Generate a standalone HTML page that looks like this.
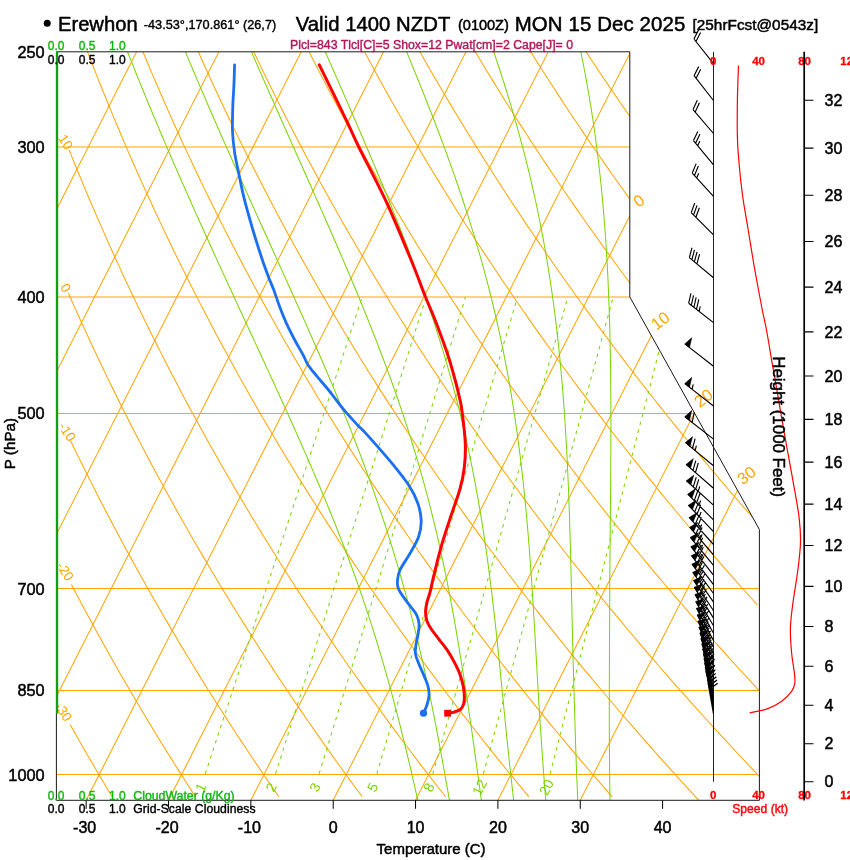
<!DOCTYPE html>
<html><head><meta charset="utf-8"><title>Skew-T Erewhon</title>
<style>html,body{margin:0;padding:0;background:#fff}body{width:850px;height:860px;overflow:hidden;font-family:"Liberation Sans",sans-serif}svg{display:block}</style>
</head><body>
<svg width="850" height="860" viewBox="0 0 850 860" font-family="'Liberation Sans', sans-serif" style="will-change:transform">
<rect width="850" height="860" fill="#fff"/>
<defs><clipPath id="fr"><path d="M56.4 51.8 L629.8 51.8 L629.8 296.94 L759.4 529.51 L759.4 800.3 L56.4 800.3Z"/></clipPath></defs>
<g clip-path="url(#fr)" fill="none" stroke-width="1.02">
<path d="M56.4 146.89H759.4M56.4 296.94H759.4M56.4 413.5H759.4M56.4 588.5H759.4M56.4 690.5H758.6M56.4 774.5H757.8" stroke="#FFA500"/>
<path d="M-654.95 800.3L-275.16 51.8M-572.6 800.3L-192.82 51.8M-490.26 800.3L-110.47 51.8M-407.91 800.3L-28.12 51.8M-325.56 800.3L54.22 51.8M-243.22 800.3L136.57 51.8M-160.87 800.3L218.92 51.8M-78.52 800.3L301.26 51.8M3.83 800.3L383.61 51.8M86.17 800.3L465.96 51.8M168.52 800.3L548.31 51.8M250.87 800.3L630.65 51.8M333.21 800.3L713 51.8M415.56 800.3L795.35 51.8M497.91 800.3L877.69 51.8M580.26 800.3L960.04 51.8" stroke="#FFA500"/>
<path d="M70.2 724.67 L70.89 725.9 L71.72 727.38 L72.56 728.86 L73.39 730.34 L74.22 731.81 L75.06 733.29 L75.89 734.77 L76.73 736.25 L77.57 737.72 L78.41 739.2 L79.25 740.68 L80.1 742.15 L80.94 743.63 L81.78 745.11 L82.63 746.59 L83.48 748.06 L84.33 749.54 L85.18 751.02 L86.03 752.49 L86.88 753.97 L87.74 755.45 L88.6 756.93 L89.45 758.4 L90.31 759.88 L91.17 761.36 L92.03 762.84 L92.89 764.31 L93.76 765.79 L94.62 767.27 L95.49 768.74 L96.36 770.22 L97.23 771.7 L98.1 773.18 L98.97 774.65 L99.84 776.13 L100.71 777.61 L101.59 779.08 L102.47 780.56 L103.34 782.04 L104.22 783.52 L105.1 784.99 L105.99 786.47 L106.87 787.95 L107.75 789.43 L108.64 790.9 L109.53 792.38 L110.42 793.86 L111.31 795.33 L112.2 796.81M71.4 584.5 L71.77 585.21 L73.79 589.06 L75.81 592.91 L77.84 596.75 L79.88 600.6 L81.93 604.45 L83.99 608.29 L86.05 612.14 L88.13 615.99 L90.21 619.84 L92.3 623.68 L94.4 627.53 L96.51 631.38 L98.63 635.23 L100.76 639.07 L102.89 642.92 L105.03 646.77 L107.18 650.61 L109.35 654.46 L111.51 658.31 L113.69 662.16 L115.88 666 L118.07 669.85 L120.28 673.7 L122.49 677.55 L124.71 681.39 L126.94 685.24 L129.18 689.09 L131.43 692.93 L133.69 696.78 L135.95 700.63 L138.23 704.48 L140.51 708.32 L142.8 712.17 L145.1 716.02 L147.42 719.87 L149.74 723.71 L152.06 727.56 L154.4 731.41 L156.75 735.25 L159.1 739.1 L161.47 742.95 L163.84 746.8 L166.23 750.64 L168.62 754.49 L171.02 758.34 L173.43 762.19 L175.85 766.03 L178.28 769.88 L180.72 773.73 L183.16 777.57 L185.62 781.42 L188.09 785.27 L190.56 789.12 L193.05 792.96 L195.54 796.81M69.8 439.19 L72.24 444.25 L75.24 450.44 L78.27 456.62 L81.31 462.81 L84.38 468.99 L87.47 475.18 L90.57 481.36 L93.7 487.55 L96.85 493.73 L100.03 499.92 L103.22 506.1 L106.43 512.29 L109.67 518.47 L112.93 524.66 L116.21 530.85 L119.51 537.03 L122.83 543.22 L126.18 549.4 L129.55 555.59 L132.94 561.77 L136.35 567.96 L139.78 574.14 L143.24 580.33 L146.72 586.51 L150.22 592.7 L153.74 598.88 L157.29 605.07 L160.86 611.25 L164.45 617.44 L168.07 623.62 L171.7 629.81 L175.36 635.99 L179.05 642.18 L182.75 648.37 L186.49 654.55 L190.24 660.74 L194.02 666.92 L197.82 673.11 L201.64 679.29 L205.49 685.48 L209.36 691.66 L213.26 697.85 L217.17 704.03 L221.12 710.22 L225.09 716.4 L229.08 722.59 L233.09 728.77 L237.13 734.96 L241.2 741.14 L245.29 747.33 L249.4 753.51 L253.54 759.7 L257.7 765.88 L261.89 772.07 L266.1 778.26 L270.34 784.44 L274.6 790.63 L278.89 796.81M68.4 293.13 L70.65 298.25 L74.47 306.84 L78.33 315.44 L82.23 324.03 L86.17 332.63 L90.15 341.23 L94.16 349.82 L98.22 358.42 L102.32 367.01 L106.45 375.61 L110.63 384.21 L114.84 392.8 L119.1 401.4 L123.4 409.99 L127.74 418.59 L132.12 427.19 L136.54 435.78 L141 444.38 L145.51 452.97 L150.05 461.57 L154.64 470.17 L159.27 478.76 L163.94 487.36 L168.66 495.95 L173.42 504.55 L178.22 513.14 L183.06 521.74 L187.95 530.34 L192.88 538.93 L197.86 547.53 L202.88 556.12 L207.95 564.72 L213.05 573.32 L218.21 581.91 L223.41 590.51 L228.65 599.1 L233.94 607.7 L239.28 616.3 L244.66 624.89 L250.08 633.49 L255.56 642.08 L261.07 650.68 L266.64 659.28 L272.25 667.87 L277.91 676.47 L283.62 685.06 L289.38 693.66 L295.18 702.26 L301.03 710.85 L306.93 719.45 L312.88 728.04 L318.87 736.64 L324.92 745.24 L331.01 753.83 L337.16 762.43 L343.35 771.02 L349.59 779.62 L355.89 788.22 L362.23 796.81M69.1 149.97 L71.08 154.93 L75.57 166 L80.12 177.06 L84.73 188.13 L89.4 199.2 L94.14 210.26 L98.94 221.33 L103.8 232.4 L108.72 243.47 L113.71 254.53 L118.77 265.6 L123.89 276.67 L129.07 287.73 L134.32 298.8 L139.64 309.87 L145.02 320.93 L150.47 332 L155.99 343.07 L161.58 354.13 L167.23 365.2 L172.95 376.27 L178.74 387.34 L184.6 398.4 L190.53 409.47 L196.53 420.54 L202.6 431.6 L208.75 442.67 L214.96 453.74 L221.25 464.8 L227.6 475.87 L234.03 486.94 L240.54 498 L247.12 509.07 L253.77 520.14 L260.5 531.21 L267.3 542.27 L274.18 553.34 L281.13 564.41 L288.16 575.47 L295.27 586.54 L302.45 597.61 L309.72 608.67 L317.06 619.74 L324.48 630.81 L331.98 641.87 L339.56 652.94 L347.22 664.01 L354.96 675.08 L362.78 686.14 L370.68 697.21 L378.67 708.28 L386.74 719.34 L394.89 730.41 L403.12 741.48 L411.44 752.54 L419.85 763.61 L428.34 774.68 L436.91 785.74 L445.58 796.81M87.55 51.8 L92.35 64.22 L97.21 76.63 L102.16 89.05 L107.18 101.47 L112.28 113.88 L117.46 126.3 L122.72 138.72 L128.05 151.13 L133.47 163.55 L138.96 175.97 L144.54 188.39 L150.2 200.8 L155.93 213.22 L161.75 225.64 L167.66 238.05 L173.64 250.47 L179.71 262.89 L185.87 275.3 L192.11 287.72 L198.44 300.14 L204.85 312.55 L211.35 324.97 L217.93 337.39 L224.61 349.8 L231.37 362.22 L238.22 374.64 L245.17 387.06 L252.2 399.47 L259.32 411.89 L266.54 424.31 L273.85 436.72 L281.25 449.14 L288.74 461.56 L296.33 473.97 L304.01 486.39 L311.79 498.81 L319.67 511.22 L327.64 523.64 L335.71 536.06 L343.88 548.47 L352.15 560.89 L360.51 573.31 L368.98 585.72 L377.55 598.14 L386.21 610.56 L394.99 622.98 L403.86 635.39 L412.84 647.81 L421.92 660.23 L431.11 672.64 L440.4 685.06 L449.8 697.48 L459.31 709.89 L468.92 722.31 L478.65 734.73 L488.48 747.14 L498.42 759.56 L508.48 771.98 L518.64 784.39 L528.92 796.81M142.94 51.8 L148.12 64.22 L153.37 76.63 L158.7 89.05 L164.11 101.47 L169.6 113.88 L175.16 126.3 L180.82 138.72 L186.55 151.13 L192.36 163.55 L198.26 175.97 L204.24 188.39 L210.3 200.8 L216.45 213.22 L222.69 225.64 L229.01 238.05 L235.41 250.47 L241.91 262.89 L248.49 275.3 L255.15 287.72 L261.91 300.14 L268.76 312.55 L275.69 324.97 L282.72 337.39 L289.84 349.8 L297.04 362.22 L304.35 374.64 L311.74 387.06 L319.23 399.47 L326.81 411.89 L334.49 424.31 L342.26 436.72 L350.13 449.14 L358.09 461.56 L366.15 473.97 L374.31 486.39 L382.57 498.81 L390.93 511.22 L399.39 523.64 L407.95 536.06 L416.61 548.47 L425.38 560.89 L434.24 573.31 L443.21 585.72 L452.29 598.14 L461.47 610.56 L470.75 622.98 L480.14 635.39 L489.64 647.81 L499.25 660.23 L508.97 672.64 L518.79 685.06 L528.73 697.48 L538.77 709.89 L548.93 722.31 L559.2 734.73 L569.58 747.14 L580.08 759.56 L590.69 771.98 L601.42 784.39 L612.27 796.81M198.34 51.8 L203.92 64.28 L209.57 76.75 L215.31 89.23 L221.14 101.7 L227.05 114.18 L233.04 126.65 L239.11 139.13 L245.27 151.6 L251.52 164.08 L257.85 176.55 L264.27 189.03 L270.78 201.5 L277.38 213.98 L284.06 226.45 L290.83 238.93 L297.7 251.4 L304.65 263.88 L311.7 276.35 L318.83 288.83 L326.06 301.3 L333.39 313.78 L340.8 326.25 L348.31 338.73 L355.92 351.2 L363.62 363.68 L371.42 376.15 L379.31 388.63 L387.3 401.1 L395.39 413.58 L403.58 426.05 L411.87 438.53 L420.26 451 L428.75 463.48 L437.34 475.95 L446.04 488.43 L454.84 500.9 L463.74 513.38 L472.74 525.85 L481.86 538.33 L491.07 550.8 L500.4 563.28 L509.83 575.75 L519.37 588.23 L529.02 600.7 L538.78 613.18 L548.65 625.65 L558.63 638.13 L568.72 650.6 L578.92 663.08 L589.24 675.55 L599.67 688.03 L610.22 700.5 L620.88 712.98 L631.66 725.45 L642.56 737.93 L653.58 750.4 L664.71 762.88 L675.97 775.35 L687.34 787.83 L698.84 800.3M253.73 51.8 L259.5 63.88 L265.34 75.95 L271.27 88.03 L277.27 100.11 L283.36 112.18 L289.52 124.26 L295.77 136.34 L302.1 148.42 L308.51 160.49 L315.01 172.57 L321.59 184.65 L328.25 196.72 L335 208.8 L341.84 220.88 L348.76 232.95 L355.77 245.03 L362.86 257.11 L370.04 269.18 L377.32 281.26 L384.68 293.34 L392.13 305.42 L399.67 317.49 L407.3 329.57 L415.02 341.65 L422.83 353.72 L430.74 365.8 L438.74 377.88 L446.84 389.95 L455.03 402.03 L463.31 414.11 L471.69 426.18 L480.16 438.26 L488.74 450.34 L497.41 462.42 L506.18 474.49 L515.05 486.57 L524.01 498.65 L533.08 510.72 L542.25 522.8 L551.52 534.88 L560.89 546.95 L570.37 559.03 L579.95 571.11 L589.63 583.18 L599.42 595.26 L609.32 607.34 L619.32 619.41 L629.43 631.49 L639.64 643.57 L649.97 655.65 L660.4 667.72 L670.95 679.8 L681.6 691.88 L692.37 703.95 L703.25 716.03 L714.24 728.11 L725.34 740.18 L736.56 752.26 L747.9 764.34 L759.35 776.41M309.13 51.8 L314.53 62.46 L320.01 73.12 L325.54 83.78 L331.14 94.43 L336.81 105.09 L342.54 115.75 L348.33 126.41 L354.2 137.07 L360.12 147.73 L366.12 158.39 L372.18 169.04 L378.3 179.7 L384.5 190.36 L390.76 201.02 L397.09 211.68 L403.49 222.34 L409.96 233 L416.5 243.65 L423.11 254.31 L429.79 264.97 L436.54 275.63 L443.36 286.29 L450.26 296.95 L457.22 307.61 L464.26 318.26 L471.37 328.92 L478.56 339.58 L485.81 350.24 L493.15 360.9 L500.55 371.56 L508.04 382.21 L515.59 392.87 L523.23 403.53 L530.94 414.19 L538.72 424.85 L546.59 435.51 L554.53 446.17 L562.55 456.82 L570.65 467.48 L578.83 478.14 L587.09 488.8 L595.43 499.46 L603.84 510.12 L612.34 520.78 L620.93 531.43 L629.59 542.09 L638.34 552.75 L647.16 563.41 L656.08 574.07 L665.07 584.73 L674.15 595.39 L683.32 606.04 L692.57 616.7 L701.91 627.36 L711.33 638.02 L720.84 648.68 L730.44 659.34 L740.12 670 L749.9 680.65 L759.76 691.31M364.52 51.8 L369.47 61.02 L374.48 70.24 L379.53 79.46 L384.64 88.68 L389.79 97.9 L394.99 107.12 L400.24 116.34 L405.55 125.55 L410.9 134.77 L416.3 143.99 L421.76 153.21 L427.27 162.43 L432.82 171.65 L438.43 180.87 L444.1 190.09 L449.81 199.31 L455.58 208.53 L461.4 217.75 L467.27 226.97 L473.2 236.19 L479.18 245.41 L485.22 254.63 L491.31 263.84 L497.45 273.06 L503.65 282.28 L509.9 291.5 L516.21 300.72 L522.58 309.94 L529 319.16 L535.47 328.38 L542.01 337.6 L548.6 346.82 L555.24 356.04 L561.95 365.26 L568.71 374.48 L575.53 383.7 L582.41 392.92 L589.35 402.14 L596.34 411.35 L603.4 420.57 L610.51 429.79 L617.69 439.01 L624.92 448.23 L632.22 457.45 L639.57 466.67 L646.99 475.89 L654.47 485.11 L662.01 494.33 L669.61 503.55 L677.27 512.77 L685 521.99 L692.79 531.21 L700.64 540.43 L708.56 549.64 L716.54 558.86 L724.58 568.08 L732.69 577.3 L740.86 586.52 L749.1 595.74 L757.4 604.96M419.91 51.8 L424.38 59.67 L428.88 67.53 L433.42 75.4 L437.99 83.27 L442.61 91.14 L447.26 99 L451.94 106.87 L456.67 114.74 L461.43 122.61 L466.23 130.47 L471.07 138.34 L475.95 146.21 L480.86 154.07 L485.81 161.94 L490.81 169.81 L495.84 177.68 L500.91 185.54 L506.02 193.41 L511.16 201.28 L516.35 209.15 L521.58 217.01 L526.85 224.88 L532.15 232.75 L537.5 240.61 L542.89 248.48 L548.32 256.35 L553.79 264.22 L559.3 272.08 L564.85 279.95 L570.44 287.82 L576.08 295.69 L581.75 303.55 L587.47 311.42 L593.23 319.29 L599.03 327.15 L604.87 335.02 L610.76 342.89 L616.69 350.76 L622.66 358.62 L628.68 366.49 L634.74 374.36 L640.84 382.23 L646.98 390.09 L653.17 397.96 L659.4 405.83 L665.68 413.7 L672 421.56 L678.37 429.43 L684.78 437.3 L691.24 445.16 L697.74 453.03 L704.29 460.9 L710.88 468.77 L717.52 476.63 L724.2 484.5 L730.93 492.37 L737.71 500.24 L744.53 508.1 L751.4 515.97 L758.32 523.84M475.31 51.8 L477.68 55.78 L480.06 59.75 L482.45 63.73 L484.86 67.71 L487.27 71.68 L489.69 75.66 L492.12 79.63 L494.56 83.61 L497.01 87.59 L499.47 91.56 L501.94 95.54 L504.42 99.52 L506.91 103.49 L509.41 107.47 L511.92 111.45 L514.44 115.42 L516.97 119.4 L519.51 123.37 L522.06 127.35 L524.62 131.33 L527.19 135.3 L529.77 139.28 L532.35 143.26 L534.95 147.23 L537.56 151.21 L540.18 155.18 L542.81 159.16 L545.45 163.14 L548.1 167.11 L550.76 171.09 L553.43 175.07 L556.11 179.04 L558.8 183.02 L561.5 187 L564.21 190.97 L566.94 194.95 L569.67 198.92 L572.41 202.9 L575.16 206.88 L577.93 210.85 L580.7 214.83 L583.48 218.81 L586.28 222.78 L589.08 226.76 L591.9 230.74 L594.72 234.71 L597.56 238.69 L600.41 242.66 L603.26 246.64 L606.13 250.62 L609.01 254.59 L611.9 258.57 L614.8 262.55 L617.71 266.52 L620.64 270.5 L623.57 274.47 L626.51 278.45 L629.47 282.43 L632.43 286.4 L635.41 290.38M530.7 51.8 L532.28 54.32 L533.86 56.84 L535.45 59.35 L537.04 61.87 L538.63 64.39 L540.23 66.91 L541.83 69.43 L543.44 71.95 L545.05 74.46 L546.66 76.98 L548.28 79.5 L549.9 82.02 L551.53 84.54 L553.16 87.05 L554.79 89.57 L556.43 92.09 L558.07 94.61 L559.72 97.13 L561.37 99.64 L563.02 102.16 L564.68 104.68 L566.34 107.2 L568.01 109.72 L569.68 112.24 L571.36 114.75 L573.04 117.27 L574.72 119.79 L576.4 122.31 L578.1 124.83 L579.79 127.34 L581.49 129.86 L583.19 132.38 L584.9 134.9 L586.61 137.42 L588.33 139.94 L590.05 142.45 L591.77 144.97 L593.5 147.49 L595.23 150.01 L596.97 152.53 L598.71 155.04 L600.45 157.56 L602.2 160.08 L603.96 162.6 L605.71 165.12 L607.48 167.63 L609.24 170.15 L611.01 172.67 L612.78 175.19 L614.56 177.71 L616.35 180.23 L618.13 182.74 L619.92 185.26 L621.72 187.78 L623.52 190.3 L625.32 192.82 L627.13 195.33 L628.94 197.85 L630.76 200.37 L632.58 202.89M586.09 51.8 L586.86 52.97 L587.63 54.14 L588.4 55.31 L589.17 56.48 L589.94 57.65 L590.71 58.82 L591.49 59.99 L592.26 61.16 L593.04 62.33 L593.81 63.49 L594.59 64.66 L595.37 65.83 L596.15 67 L596.93 68.17 L597.71 69.34 L598.49 70.51 L599.27 71.68 L600.05 72.85 L600.84 74.02 L601.62 75.19 L602.41 76.36 L603.19 77.53 L603.98 78.7 L604.77 79.87 L605.56 81.04 L606.35 82.21 L607.14 83.38 L607.93 84.54 L608.72 85.71 L609.52 86.88 L610.31 88.05 L611.11 89.22 L611.9 90.39 L612.7 91.56 L613.5 92.73 L614.3 93.9 L615.1 95.07 L615.9 96.24 L616.7 97.41 L617.5 98.58 L618.31 99.75 L619.11 100.92 L619.92 102.09 L620.72 103.26 L621.53 104.43 L622.34 105.6 L623.15 106.76 L623.96 107.93 L624.77 109.1 L625.58 110.27 L626.39 111.44 L627.2 112.61 L628.02 113.78 L628.83 114.95 L629.65 116.12 L630.47 117.29 L631.28 118.46 L632.1 119.63 L632.92 120.8 L633.74 121.97" stroke="#FFA500"/>
<path d="M417.79 800.3 L415.68 790.94 L413.55 781.59 L411.4 772.23 L409.21 762.88 L406.99 753.52 L404.73 744.16 L402.43 734.81 L400.09 725.45 L397.71 716.09 L395.27 706.74 L392.79 697.38 L390.25 688.03 L387.65 678.67 L385 669.31 L382.28 659.96 L379.5 650.6 L376.66 641.24 L373.74 631.89 L370.77 622.53 L367.72 613.18 L364.6 603.82 L361.41 594.46 L358.15 585.11 L354.82 575.75 L351.42 566.39 L347.95 557.04 L344.41 547.68 L340.77 538.33 L337.08 528.97 L333.34 519.61 L329.54 510.26 L325.68 500.9 L321.78 491.54 L317.83 482.19 L313.84 472.83 L309.8 463.48 L305.73 454.12 L301.62 444.76 L297.47 435.41 L293.3 426.05 L289.09 416.69 L284.87 407.34 L280.62 397.98 L276.35 388.63 L272.06 379.27 L267.76 369.91 L263.45 360.56 L259.13 351.2 L254.81 341.84 L250.48 332.49 L246.15 323.13 L241.82 313.78 L237.5 304.42 L233.17 295.06 L228.86 285.71 L224.56 276.35 L220.26 266.99 L215.98 257.64 L211.71 248.28 L207.46 238.93 L203.23 229.57 L199.01 220.21 L194.81 210.86 L190.64 201.5 L186.49 192.14 L182.36 182.79 L178.25 173.43 L174.17 164.08 L170.12 154.72 L166.09 145.36 L162.1 136.01 L158.13 126.65 L154.19 117.29 L150.29 107.94 L146.41 98.58 L142.57 89.23 L138.76 79.87 L134.99 70.51 L131.25 61.16 L127.54 51.8M449.49 800.3 L447.82 790.94 L446.15 781.59 L444.47 772.23 L442.78 762.88 L441.07 753.52 L439.34 744.16 L437.59 734.81 L435.81 725.45 L434 716.09 L432.15 706.74 L430.26 697.38 L428.32 688.03 L426.34 678.67 L424.3 669.31 L422.21 659.96 L420.01 650.6 L417.77 641.24 L415.49 631.89 L413.14 622.53 L410.75 613.18 L408.29 603.82 L405.78 594.46 L403.2 585.11 L400.56 575.75 L397.86 566.39 L395.09 557.04 L392.25 547.68 L389.34 538.33 L386.36 528.97 L383.31 519.61 L380.2 510.26 L377.01 500.9 L373.76 491.54 L370.44 482.19 L367.05 472.83 L363.59 463.48 L360.08 454.12 L356.5 444.76 L352.86 435.41 L349.17 426.05 L345.42 416.69 L341.62 407.34 L337.77 397.98 L333.88 388.63 L329.94 379.27 L325.96 369.91 L321.94 360.56 L317.89 351.2 L313.81 341.84 L309.7 332.49 L305.57 323.13 L301.41 313.78 L297.23 304.42 L293.04 295.06 L288.83 285.71 L284.62 276.35 L280.39 266.99 L276.16 257.64 L271.92 248.28 L267.68 238.93 L263.44 229.57 L259.21 220.21 L254.98 210.86 L250.76 201.5 L246.54 192.14 L242.34 182.79 L238.15 173.43 L233.97 164.08 L229.81 154.72 L225.66 145.36 L221.53 136.01 L217.43 126.65 L213.34 117.29 L209.27 107.94 L205.23 98.58 L201.22 89.23 L197.22 79.87 L193.26 70.51 L189.32 61.16 L185.41 51.8M481.38 800.3 L480.09 790.94 L478.8 781.59 L477.52 772.23 L476.24 762.88 L474.96 753.52 L473.67 744.16 L472.36 734.81 L471.03 725.45 L469.64 716.09 L468.24 706.74 L466.83 697.38 L465.41 688.03 L463.97 678.67 L462.5 669.31 L461.02 659.96 L459.5 650.6 L457.95 641.24 L456.37 631.89 L454.74 622.53 L453.07 613.18 L451.36 603.82 L449.6 594.46 L447.78 585.11 L445.91 575.75 L443.98 566.39 L442 557.04 L439.94 547.68 L437.83 538.33 L435.64 528.97 L433.39 519.61 L431.07 510.26 L428.67 500.9 L426.2 491.54 L423.66 482.19 L421.04 472.83 L418.35 463.48 L415.58 454.12 L412.73 444.76 L409.82 435.41 L406.82 426.05 L403.75 416.69 L400.61 407.34 L397.4 397.98 L394.12 388.63 L390.77 379.27 L387.35 369.91 L383.87 360.56 L380.33 351.2 L376.73 341.84 L373.07 332.49 L369.36 323.13 L365.6 313.78 L361.79 304.42 L357.94 295.06 L354.05 285.71 L350.11 276.35 L346.15 266.99 L342.15 257.64 L338.12 248.28 L334.07 238.93 L329.99 229.57 L325.89 220.21 L321.78 210.86 L317.65 201.5 L313.51 192.14 L309.36 182.79 L305.2 173.43 L301.03 164.08 L296.87 154.72 L292.7 145.36 L288.54 136.01 L284.38 126.65 L280.23 117.29 L276.08 107.94 L271.94 98.58 L267.82 89.23 L263.71 79.87 L259.61 70.51 L255.53 61.16 L251.46 51.8M513.62 800.3 L512.6 790.94 L511.57 781.59 L510.53 772.23 L509.5 762.88 L508.49 753.52 L507.51 744.16 L506.55 734.81 L505.61 725.45 L504.68 716.09 L503.75 706.74 L502.83 697.38 L501.91 688.03 L500.98 678.67 L500.05 669.31 L499.11 659.96 L498.15 650.6 L497.18 641.24 L496.19 631.89 L495.17 622.53 L494.13 613.18 L493.05 603.82 L491.94 594.46 L490.8 585.11 L489.61 575.75 L488.38 566.39 L487.11 557.04 L485.79 547.68 L484.42 538.33 L482.99 528.97 L481.51 519.61 L479.97 510.26 L478.37 500.9 L476.71 491.54 L474.98 482.19 L473.19 472.83 L471.32 463.48 L469.38 454.12 L467.38 444.76 L465.3 435.41 L463.14 426.05 L460.91 416.69 L458.6 407.34 L456.21 397.98 L453.74 388.63 L451.2 379.27 L448.58 369.91 L445.88 360.56 L443.1 351.2 L440.25 341.84 L437.32 332.49 L434.32 323.13 L431.24 313.78 L428.09 304.42 L424.87 295.06 L421.58 285.71 L418.23 276.35 L414.82 266.99 L411.34 257.64 L407.81 248.28 L404.22 238.93 L400.57 229.57 L396.88 220.21 L393.14 210.86 L389.36 201.5 L385.53 192.14 L381.67 182.79 L377.78 173.43 L373.85 164.08 L369.89 154.72 L365.91 145.36 L361.91 136.01 L357.88 126.65 L353.84 117.29 L349.78 107.94 L345.72 98.58 L341.64 89.23 L337.55 79.87 L333.46 70.51 L329.36 61.16 L325.27 51.8M545.71 800.3 L544.97 790.94 L544.26 781.59 L543.57 772.23 L542.89 762.88 L542.23 753.52 L541.58 744.16 L540.94 734.81 L540.3 725.45 L539.67 716.09 L539.1 706.74 L538.53 697.38 L537.99 688.03 L537.44 678.67 L536.91 669.31 L536.38 659.96 L535.85 650.6 L535.31 641.24 L534.77 631.89 L534.22 622.53 L533.66 613.18 L533.09 603.82 L532.5 594.46 L531.89 585.11 L531.25 575.75 L530.6 566.39 L529.91 557.04 L529.2 547.68 L528.46 538.33 L527.68 528.97 L526.86 519.61 L526 510.26 L525.11 500.9 L524.16 491.54 L523.18 482.19 L522.14 472.83 L521.05 463.48 L519.91 454.12 L518.71 444.76 L517.46 435.41 L516.15 426.05 L514.77 416.69 L513.34 407.34 L511.84 397.98 L510.27 388.63 L508.63 379.27 L506.92 369.91 L505.14 360.56 L503.29 351.2 L501.37 341.84 L499.36 332.49 L497.29 323.13 L495.13 313.78 L492.9 304.42 L490.6 295.06 L488.21 285.71 L485.75 276.35 L483.2 266.99 L480.59 257.64 L477.89 248.28 L475.12 238.93 L472.27 229.57 L469.35 220.21 L466.36 210.86 L463.3 201.5 L460.17 192.14 L456.97 182.79 L453.71 173.43 L450.39 164.08 L447.01 154.72 L443.57 145.36 L440.07 136.01 L436.52 126.65 L432.93 117.29 L429.29 107.94 L425.6 98.58 L421.87 89.23 L418.11 79.87 L414.31 70.51 L410.48 61.16 L406.62 51.8M577.78 800.3 L577.36 790.94 L576.97 781.59 L576.6 772.23 L576.24 762.88 L575.91 753.52 L575.6 744.16 L575.29 734.81 L575 725.45 L574.72 716.09 L574.45 706.74 L574.18 697.38 L573.91 688.03 L573.65 678.67 L573.38 669.31 L573.11 659.96 L572.84 650.6 L572.62 641.24 L572.4 631.89 L572.18 622.53 L571.97 613.18 L571.76 603.82 L571.55 594.46 L571.34 585.11 L571.12 575.75 L570.89 566.39 L570.66 557.04 L570.41 547.68 L570.15 538.33 L569.87 528.97 L569.58 519.61 L569.26 510.26 L568.93 500.9 L568.57 491.54 L568.19 482.19 L567.78 472.83 L567.34 463.48 L566.87 454.12 L566.37 444.76 L565.84 435.41 L565.26 426.05 L564.65 416.69 L564 407.34 L563.3 397.98 L562.56 388.63 L561.78 379.27 L560.94 369.91 L560.06 360.56 L559.12 351.2 L558.13 341.84 L557.09 332.49 L555.99 323.13 L554.82 313.78 L553.6 304.42 L552.31 295.06 L550.96 285.71 L549.55 276.35 L548.06 266.99 L546.51 257.64 L544.89 248.28 L543.2 238.93 L541.43 229.57 L539.59 220.21 L537.68 210.86 L535.69 201.5 L533.62 192.14 L531.48 182.79 L529.27 173.43 L526.98 164.08 L524.61 154.72 L522.16 145.36 L519.64 136.01 L517.05 126.65 L514.38 117.29 L511.64 107.94 L508.82 98.58 L505.94 89.23 L502.99 79.87 L499.97 70.51 L496.89 61.16 L493.74 51.8M610.03 800.3 L609.86 790.94 L609.72 781.59 L609.61 772.23 L609.51 762.88 L609.44 753.52 L609.38 744.16 L609.34 734.81 L609.31 725.45 L609.3 716.09 L609.3 706.74 L609.31 697.38 L609.33 688.03 L609.36 678.67 L609.39 669.31 L609.43 659.96 L609.48 650.6 L609.52 641.24 L609.57 631.89 L609.62 622.53 L609.66 613.18 L609.71 603.82 L609.74 594.46 L609.77 585.11 L609.82 575.75 L609.89 566.39 L609.97 557.04 L610.06 547.68 L610.14 538.33 L610.23 528.97 L610.32 519.61 L610.41 510.26 L610.5 500.9 L610.58 491.54 L610.65 482.19 L610.72 472.83 L610.78 463.48 L610.83 454.12 L610.87 444.76 L610.89 435.41 L610.9 426.05 L610.9 416.69 L610.87 407.34 L610.83 397.98 L610.77 388.63 L610.68 379.27 L610.57 369.91 L610.44 360.56 L610.28 351.2 L610.09 341.84 L609.87 332.49 L609.62 323.13 L609.33 313.78 L609.01 304.42 L608.65 295.06 L608.25 285.71 L607.82 276.35 L607.34 266.99 L606.81 257.64 L606.25 248.28 L605.63 238.93 L604.96 229.57 L604.25 220.21 L603.48 210.86 L602.65 201.5 L601.77 192.14 L600.84 182.79 L599.84 173.43 L598.78 164.08 L597.66 154.72 L596.47 145.36 L595.22 136.01 L593.9 126.65 L592.52 117.29 L591.06 107.94 L589.53 98.58 L587.93 89.23 L586.26 79.87 L584.51 70.51 L582.69 61.16 L580.8 51.8" stroke="#7AD400"/>
<path d="M205.3 773.85L362.21 296.94M275.57 773.85L426.05 296.94M319.14 773.85L465.49 296.94M376.83 773.85L517.55 296.94M432.78 773.85L567.9 296.94M483.35 773.85L613.26 296.94M550.08 773.85L672.95 296.94" stroke="#7AD400" stroke-dasharray="3.6 4.4"/>
</g>
<text x="200.59" y="787.3" font-size="14" fill="#7AD400" text-anchor="middle" dominant-baseline="central" transform="rotate(-63 200.59 787.3)">1</text>
<text x="271.04" y="787.3" font-size="14" fill="#7AD400" text-anchor="middle" dominant-baseline="central" transform="rotate(-63 271.04 787.3)">2</text>
<text x="314.74" y="787.3" font-size="14" fill="#7AD400" text-anchor="middle" dominant-baseline="central" transform="rotate(-63 314.74 787.3)">3</text>
<text x="372.58" y="787.3" font-size="14" fill="#7AD400" text-anchor="middle" dominant-baseline="central" transform="rotate(-63 372.58 787.3)">5</text>
<text x="428.71" y="787.3" font-size="14" fill="#7AD400" text-anchor="middle" dominant-baseline="central" transform="rotate(-63 428.71 787.3)">8</text>
<text x="479.43" y="787.3" font-size="14" fill="#7AD400" text-anchor="middle" dominant-baseline="central" transform="rotate(-63 479.43 787.3)">12</text>
<text x="546.37" y="787.3" font-size="14" fill="#7AD400" text-anchor="middle" dominant-baseline="central" transform="rotate(-63 546.37 787.3)">20</text>
<text x="638.6" y="200.57" font-size="16.5" fill="#FFA500" text-anchor="middle" dominant-baseline="central" transform="rotate(-38 638.6 200.57)">0</text>
<text x="660.15" y="320.41" font-size="16.5" fill="#FFA500" text-anchor="middle" dominant-baseline="central" transform="rotate(-38 660.15 320.41)">10</text>
<text x="703.25" y="397.75" font-size="16.5" fill="#FFA500" text-anchor="middle" dominant-baseline="central" transform="rotate(-38 703.25 397.75)">20</text>
<text x="746.35" y="475.1" font-size="16.5" fill="#FFA500" text-anchor="middle" dominant-baseline="central" transform="rotate(-38 746.35 475.1)">30</text>
<text x="65.6" y="142.1" font-size="13.5" fill="#FFA500" text-anchor="middle" dominant-baseline="central" transform="rotate(57 65.6 142.1)">10</text>
<text x="65.6" y="287.9" font-size="13.5" fill="#FFA500" text-anchor="middle" dominant-baseline="central" transform="rotate(57 65.6 287.9)">0</text>
<text x="67" y="432" font-size="13.5" fill="#FFA500" text-anchor="middle" dominant-baseline="central" transform="rotate(57 67 432)">-10</text>
<text x="65.1" y="571.4" font-size="13.5" fill="#FFA500" text-anchor="middle" dominant-baseline="central" transform="rotate(57 65.1 571.4)">-20</text>
<text x="63.4" y="712" font-size="13.5" fill="#FFA500" text-anchor="middle" dominant-baseline="central" transform="rotate(57 63.4 712)">-30</text>
<path d="M56.4 51.8 L629.8 51.8 L629.8 296.94 L759.4 529.51 L759.4 800.3 L56.4 800.3Z" fill="none" stroke="#1a1a1a" stroke-width="1"/>
<path d="M57.1 51.8V713.4" stroke="#12A012" stroke-width="2.2" fill="none"/>
<path d="M234.6 64.8C234.48 68.22 234.2 78.35 233.9 85.3C233.6 92.25 233.03 98.85 232.8 106.5C232.57 114.15 232.2 123.55 232.5 131.2C232.8 138.85 233.55 145.35 234.6 152.4C235.65 159.45 237.22 165.87 238.8 173.5C240.38 181.13 241.75 188.78 244.1 198.2C246.45 207.62 249.95 220 252.9 230C255.85 240 259.15 250.25 261.8 258.2C264.45 266.15 266.8 272.4 268.8 277.7C270.8 283 272.02 285.23 273.8 290C275.58 294.77 277.45 300.87 279.5 306.3C281.55 311.73 283.52 316.9 286.1 322.6C288.68 328.3 292.15 335.08 295 340.5C297.85 345.92 301.03 351.03 303.2 355.1C305.37 359.17 305.7 361.37 308 364.9C310.3 368.43 313.33 371.82 317 376.3C320.67 380.78 325.65 386.37 330 391.8C334.35 397.23 338.48 403.33 343.1 408.9C347.72 414.47 353.8 421 357.7 425.2C361.6 429.4 360.92 427.9 366.5 434.1C372.08 440.3 384.15 453.87 391.2 462.4C398.25 470.93 404.38 478.53 408.8 485.3C413.22 492.07 415.63 497.12 417.7 503C419.77 508.88 421.03 515.02 421.2 520.6C421.37 526.18 420.47 531.2 418.7 536.5C416.93 541.8 413.72 546.82 410.6 552.4C407.48 557.98 402.18 565.3 400 570C397.82 574.7 397.8 577.6 397.5 580.6C397.2 583.6 397.35 585.45 398.2 588C399.05 590.55 400.53 592.82 402.6 595.9C404.67 598.98 408.23 603.27 410.6 606.5C412.97 609.73 415.38 612.37 416.8 615.3C418.22 618.23 418.9 620.87 419.1 624.1C419.3 627.33 418.53 631.17 418 634.7C417.47 638.23 416.32 642.07 415.9 645.3C415.48 648.53 415.07 651.17 415.5 654.1C415.93 657.03 417.12 659.37 418.5 662.9C419.88 666.43 422.23 671.47 423.8 675.3C425.37 679.13 427.02 682.67 427.9 685.9C428.78 689.13 429.18 691.77 429.1 694.7C429.02 697.63 428.18 700.7 427.4 703.5C426.62 706.3 424.9 710.17 424.4 711.5" fill="none" stroke="#1A70F0" stroke-width="2.8" stroke-linecap="round" stroke-linejoin="round"/>
<path d="M319.3 64.8C323.83 74.1 339.92 106.9 346.5 120.6C353.08 134.3 352.03 133.18 358.8 147C365.57 160.82 378.27 184.37 387.1 203.5C395.93 222.63 405.45 246.33 411.8 261.8C418.15 277.27 421.6 287.3 425.2 296.3C428.8 305.3 430.68 309.02 433.4 315.8C436.12 322.58 438.92 329.93 441.5 337C444.08 344.07 446.58 350.87 448.9 358.2C451.22 365.53 453.65 374.48 455.4 381C457.15 387.52 458.32 392.42 459.4 397.3C460.48 402.18 460.92 402.68 461.9 410.3C462.88 417.92 464.9 433.43 465.3 443C465.7 452.57 465.18 460.07 464.3 467.7C463.42 475.33 462.48 479.98 460 488.8C457.52 497.62 452.63 510.6 449.4 520.6C446.17 530.6 443.25 539.38 440.6 548.8C437.95 558.22 435.27 569.83 433.5 577.1C431.73 584.37 431.12 588.1 430 592.4C428.88 596.7 427.53 599.53 426.8 602.9C426.07 606.27 425.6 609.65 425.6 612.6C425.6 615.55 425.92 617.95 426.8 620.6C427.68 623.25 428.9 625.42 430.9 628.5C432.9 631.58 436.02 635.42 438.8 639.1C441.58 642.78 444.95 646.63 447.6 650.6C450.25 654.57 452.63 658.93 454.7 662.9C456.77 666.87 458.58 670.57 460 674.4C461.42 678.23 462.47 682.22 463.2 685.9C463.93 689.58 464.35 693.42 464.4 696.5C464.45 699.58 464.23 702.2 463.5 704.4C462.77 706.6 461.77 708.37 460 709.7C458.23 711.03 454.97 711.82 452.9 712.4C450.83 712.98 448.48 713.07 447.6 713.2" fill="none" stroke="#FF0000" stroke-width="3" stroke-linecap="round" stroke-linejoin="round"/>
<circle cx="423.5" cy="713.2" r="3.6" fill="#1A70F0"/>
<rect x="444.2" y="709.8" width="6.8" height="6.8" fill="#FF0000"/>
<path d="M713.5 51.8V781.8" stroke="#222" stroke-width="1" fill="none"/>
<path d="M713.5 63.7L693.95 39M693.95 39L698.52 29.89M695.99 41.59L700.57 32.47M713.5 100.5L694.05 75.72M694.05 75.72L698.66 66.62M696.09 78.32L700.69 69.22M713.5 133.5L693.05 109.54M693.05 109.54L697.28 100.26M695.19 112.05L699.42 102.77M713.5 164.9L693.46 140.59M693.46 140.59L697.85 131.39M695.56 143.14L699.95 133.93M697.66 145.69L699.86 141.08M713.5 196.3L692.25 173.05M692.25 173.05L696.17 163.63M694.48 175.48L698.39 166.06M696.7 177.92L698.66 173.21M713.5 234.9L691.23 212.62M691.23 212.62L694.72 203.04M693.56 214.96L697.05 205.37M695.9 217.29L699.38 207.71M713.5 277.8L689.34 257.58M689.34 257.58L691.97 247.73M691.87 259.7L694.5 249.85M694.4 261.82L697.03 251.96M696.93 263.94L699.56 254.08M713.5 322.6L688.68 303.21M688.68 303.21L690.97 293.27M691.28 305.24L693.57 295.3M693.88 307.27L696.17 297.33M696.48 309.3L698.77 299.36M699.08 311.33L700.23 306.36M713.5 366.3L684.82 343.89M713.5 406L684.82 383.59M692.07 389.25L693.21 384.28M713.5 439.1L684.82 416.69M692.07 422.35L694.36 412.42M713.5 465.8L685.46 442.59M692.55 448.46L695.12 438.59M695.09 450.56L696.37 445.63M713.5 488.3L686.04 464.41M692.98 470.45L695.79 460.64M695.47 472.61L698.28 462.81M713.5 505.1L686.46 480.73M693.29 486.89L696.28 477.14M695.74 489.1L698.73 479.35M698.2 491.31L699.69 486.43M713.5 519.8L687.74 494.08M694.25 500.58L697.74 490.99M696.59 502.91L700.07 493.32M698.92 505.24L700.66 500.45M713.5 531.6L688.4 505.24M694.75 511.9L698.47 502.4M697.02 514.29L700.74 504.79M699.3 516.68L701.16 511.93M713.5 544.5L689.13 517.46M695.29 524.29L699.27 514.9M697.5 526.74L701.48 517.35M699.71 529.2L701.7 524.5M713.5 554.8L689.73 527.23M695.74 534.2L699.93 524.9M697.89 536.7L702.08 527.4M700.05 539.2L702.14 534.55M713.5 565.4L690.36 537.3M696.21 544.41L700.6 535.2M698.3 546.95L702.7 537.75M700.4 549.5L702.6 544.9M713.5 575.2L690.95 546.63M696.65 553.85L701.23 544.74M698.69 556.44L703.28 547.33M700.74 559.03L703.03 554.47M713.5 584.6L691.52 555.58M697.08 562.92L701.84 553.9M699.07 565.55L703.84 556.53M713.5 593.5L692.07 564.07M697.49 571.51L702.42 562.59M699.43 574.18L704.37 565.25M713.5 602.2L692.83 572.24M698.06 579.81L703.22 571.01M699.93 582.53L705.09 573.73M713.5 610.8L693.61 580.31M698.64 588.02L704.03 579.36M700.44 590.78L705.83 582.12M713.5 618.1L694.28 587.19M699.14 595L704.71 586.46M700.88 597.8L706.46 589.26M713.5 625.8L695 594.45M699.68 602.38L705.45 593.96M701.35 605.22L707.12 596.81M713.5 633.2L695.75 601.42M700.23 609.45L706.2 601.18M701.84 612.34L707.81 604.06M713.5 640.4L696.52 608.2M700.81 616.34L706.98 608.22M702.35 619.26L708.52 611.13M713.5 647.34L697.27 614.76M701.37 622.99L707.73 615.01M702.85 625.95L709.2 617.97M713.5 654.02L698.01 621.08M701.92 629.41L708.45 621.57M703.33 632.39L709.86 624.56M713.5 660.44L698.98 627.06M702.65 635.5L709.41 627.86M703.97 638.52L710.72 630.88M713.5 666.6L699.97 632.81M703.39 641.35L710.37 633.91M704.62 644.41L711.6 636.97M713.5 672.5L700.93 638.34M704.11 646.97L711.29 639.74M705.25 650.07L712.43 642.83M713.5 678.14L701.86 643.65M704.8 652.37L712.18 645.33M705.85 655.5L713.23 648.45M713.5 683.52L702.7 648.76M705.43 657.54L712.98 650.69M706.41 660.7L713.96 653.84M713.5 688.64L703.4 653.67M705.95 662.51L713.64 655.8M706.87 665.68L714.55 658.97M713.5 693.5L704.06 658.34M706.45 667.23L714.26 660.67M707.3 670.42L711.21 667.14M713.5 698.1L704.7 662.78M706.92 671.71L714.85 665.29M707.72 674.91L711.68 671.7M713.5 702.44L705.3 666.98M707.37 675.94L715.41 669.66M713.5 706.52L705.87 670.93M713.5 710.34L707.45 679.43M707.45 679.43L715.69 673.42M708.08 682.66L716.33 676.66M708.72 685.9L716.96 679.9M709.35 689.14L717.6 683.14M713.5 713.94L707.99 682.93M707.99 682.93L716.34 677.06M708.57 686.17L716.92 680.31M709.15 689.42L717.49 683.56" fill="none" stroke="#000" stroke-width="1.15"/>
<path d="M684.82 343.89L691.71 337.78L689.47 347.52ZM684.82 383.59L691.71 377.48L689.47 387.22ZM684.82 416.69L691.71 410.58L689.47 420.32ZM685.46 442.59L692.53 436.68L690 446.35ZM686.04 464.41L693.25 458.68L690.49 468.28ZM686.46 480.73L693.77 475.13L690.84 484.68ZM687.74 494.08L695.33 488.85L691.92 498.25ZM688.4 505.24L696.12 500.2L692.47 509.51ZM689.13 517.46L696.99 512.64L693.08 521.84ZM689.73 527.23L697.69 522.59L693.58 531.7ZM690.36 537.3L698.42 532.84L694.11 541.86ZM690.95 546.63L699.1 542.33L694.6 551.26ZM691.52 555.58L699.75 551.45L695.08 560.29ZM692.07 564.07L700.38 560.1L695.55 568.84ZM692.83 572.24L701.24 568.47L696.18 577.09ZM693.61 580.31L702.11 576.77L696.83 585.26ZM694.28 587.19L702.86 583.83L697.4 592.2ZM695 594.45L703.65 591.29L698 599.53ZM695.75 601.42L704.47 598.47L698.62 606.57ZM696.52 608.2L705.31 605.46L699.27 613.42ZM697.27 614.76L706.13 612.22L699.9 620.04ZM698.01 621.08L706.92 618.74L700.52 626.42ZM698.98 627.06L707.96 624.98L701.33 632.47ZM699.97 632.81L709 631L702.16 638.29ZM700.93 638.34L710.01 636.78L702.97 643.88ZM701.86 643.65L710.97 642.34L703.74 649.24ZM702.7 648.76L711.85 647.67L704.45 654.39ZM703.4 653.67L712.57 652.77L705.04 659.34ZM704.06 658.34L713.25 657.61L705.59 664.04ZM704.7 662.78L713.89 662.22L706.12 668.51ZM705.3 666.98L714.5 666.57L706.63 672.72ZM705.87 670.93L715.07 670.67L707.1 676.7Z" fill="#000" stroke="#000" stroke-width="0.6"/>
<path d="M738.5 65.5C738.32 71.25 737.58 88.08 737.4 100C737.22 111.92 737.1 126.17 737.4 137C737.7 147.83 738.32 155.08 739.2 165C740.08 174.92 741.25 186 742.7 196.5C744.15 207 745.98 216.37 747.9 228C749.82 239.63 751.87 252.97 754.2 266.3C756.53 279.63 759.85 297.38 761.9 308C763.95 318.62 764.8 320.87 766.5 330C768.2 339.13 770.65 354.47 772.1 362.8C773.55 371.13 774.12 373.8 775.2 380C776.28 386.2 777.45 393.22 778.6 400C779.75 406.78 780.67 412.5 782.1 420.7C783.53 428.9 785.12 437.67 787.2 449.2C789.28 460.73 792.6 478.37 794.6 489.9C796.6 501.43 798.22 509.58 799.2 518.4C800.18 527.22 800.75 533.98 800.5 542.8C800.25 551.62 798.98 561.13 797.7 571.3C796.42 581.47 794.02 594.3 792.8 603.8C791.58 613.3 790.6 620.15 790.4 628.3C790.2 636.45 790.93 645.25 791.6 652.7C792.27 660.15 793.87 667.92 794.4 673C794.93 678.08 795.27 680.13 794.8 683.2C794.33 686.27 793.83 688.35 791.6 691.4C789.37 694.45 785.47 698.58 781.4 701.5C777.33 704.42 772.48 707 767.2 708.9C761.92 710.8 752.62 712.23 749.7 712.9" fill="none" stroke="#FF0000" stroke-width="1.2"/>
<text x="713.2" y="65.2" font-size="11.5" font-weight="bold" fill="#FF0000" text-anchor="middle" stroke="#FF0000" stroke-width="0.3" stroke-linejoin="round">0</text>
<text x="758.6" y="65.2" font-size="11.5" font-weight="bold" fill="#FF0000" text-anchor="middle" stroke="#FF0000" stroke-width="0.3" stroke-linejoin="round">40</text>
<text x="804.6" y="65.2" font-size="11.5" font-weight="bold" fill="#FF0000" text-anchor="middle" stroke="#FF0000" stroke-width="0.3" stroke-linejoin="round">80</text>
<text x="840.3" y="65.2" font-size="11.5" font-weight="bold" fill="#FF0000" stroke="#FF0000" stroke-width="0.3" stroke-linejoin="round">120</text>
<text x="713.2" y="798.6" font-size="11.5" font-weight="bold" fill="#FF0000" text-anchor="middle" stroke="#FF0000" stroke-width="0.3" stroke-linejoin="round">0</text>
<text x="758.6" y="798.6" font-size="11.5" font-weight="bold" fill="#FF0000" text-anchor="middle" stroke="#FF0000" stroke-width="0.3" stroke-linejoin="round">40</text>
<text x="804.6" y="798.6" font-size="11.5" font-weight="bold" fill="#FF0000" text-anchor="middle" stroke="#FF0000" stroke-width="0.3" stroke-linejoin="round">80</text>
<text x="840.3" y="798.6" font-size="11.5" font-weight="bold" fill="#FF0000" stroke="#FF0000" stroke-width="0.3" stroke-linejoin="round">120</text>
<text x="732.3" y="813.4" font-size="12.1" fill="#FF0000" stroke="#FF0000" stroke-width="0.4" stroke-linejoin="round">Speed (kt)</text>
<path d="M804.2 51.8V800.6" stroke="#000" stroke-width="1.7" fill="none"/>
<text x="824.5" y="787.42" font-size="16" fill="#000" stroke="#000" stroke-width="0.5" stroke-linejoin="round">0</text>
<text x="824.5" y="749.44" font-size="16" fill="#000" stroke="#000" stroke-width="0.5" stroke-linejoin="round">2</text>
<text x="824.5" y="710.94" font-size="16" fill="#000" stroke="#000" stroke-width="0.5" stroke-linejoin="round">4</text>
<text x="824.5" y="671.88" font-size="16" fill="#000" stroke="#000" stroke-width="0.5" stroke-linejoin="round">6</text>
<text x="824.5" y="632.26" font-size="16" fill="#000" stroke="#000" stroke-width="0.5" stroke-linejoin="round">8</text>
<text x="824.5" y="592.06" font-size="16" fill="#000" stroke="#000" stroke-width="0.5" stroke-linejoin="round">10</text>
<text x="824.5" y="551.26" font-size="16" fill="#000" stroke="#000" stroke-width="0.5" stroke-linejoin="round">12</text>
<text x="824.5" y="509.84" font-size="16" fill="#000" stroke="#000" stroke-width="0.5" stroke-linejoin="round">14</text>
<text x="824.5" y="467.79" font-size="16" fill="#000" stroke="#000" stroke-width="0.5" stroke-linejoin="round">16</text>
<text x="824.5" y="425.08" font-size="16" fill="#000" stroke="#000" stroke-width="0.5" stroke-linejoin="round">18</text>
<text x="824.5" y="381.7" font-size="16" fill="#000" stroke="#000" stroke-width="0.5" stroke-linejoin="round">20</text>
<text x="824.5" y="337.62" font-size="16" fill="#000" stroke="#000" stroke-width="0.5" stroke-linejoin="round">22</text>
<text x="824.5" y="292.82" font-size="16" fill="#000" stroke="#000" stroke-width="0.5" stroke-linejoin="round">24</text>
<text x="824.5" y="247.27" font-size="16" fill="#000" stroke="#000" stroke-width="0.5" stroke-linejoin="round">26</text>
<text x="824.5" y="200.96" font-size="16" fill="#000" stroke="#000" stroke-width="0.5" stroke-linejoin="round">28</text>
<text x="824.5" y="153.85" font-size="16" fill="#000" stroke="#000" stroke-width="0.5" stroke-linejoin="round">30</text>
<text x="824.5" y="105.91" font-size="16" fill="#000" stroke="#000" stroke-width="0.5" stroke-linejoin="round">32</text>
<path d="M804.2 781.72H813.5M804.2 743.74H813.5M804.2 705.24H813.5M804.2 666.18H813.5M804.2 626.56H813.5M804.2 586.36H813.5M804.2 545.56H813.5M804.2 504.14H813.5M804.2 462.09H813.5M804.2 419.38H813.5M804.2 376H813.5M804.2 331.92H813.5M804.2 287.12H813.5M804.2 241.57H813.5M804.2 195.26H813.5M804.2 148.15H813.5M804.2 100.21H813.5" stroke="#000" stroke-width="1.1" fill="none"/>
<text transform="translate(772.6 356.2) rotate(90)" font-size="16.9" fill="#000" stroke="#000" stroke-width="0.5" stroke-linejoin="round">Height (1000 Feet)</text>
<text x="44.6" y="57.7" font-size="16.3" text-anchor="end" fill="#000" stroke="#000" stroke-width="0.5" stroke-linejoin="round">250</text>
<text x="44.6" y="152.79" font-size="16.3" text-anchor="end" fill="#000" stroke="#000" stroke-width="0.5" stroke-linejoin="round">300</text>
<text x="44.6" y="302.84" font-size="16.3" text-anchor="end" fill="#000" stroke="#000" stroke-width="0.5" stroke-linejoin="round">400</text>
<text x="44.6" y="419.23" font-size="16.3" text-anchor="end" fill="#000" stroke="#000" stroke-width="0.5" stroke-linejoin="round">500</text>
<text x="44.6" y="594.72" font-size="16.3" text-anchor="end" fill="#000" stroke="#000" stroke-width="0.5" stroke-linejoin="round">700</text>
<text x="44.6" y="695.99" font-size="16.3" text-anchor="end" fill="#000" stroke="#000" stroke-width="0.5" stroke-linejoin="round">850</text>
<text x="44.6" y="780.75" font-size="16.3" text-anchor="end" fill="#000" stroke="#000" stroke-width="0.5" stroke-linejoin="round">1000</text>
<text transform="translate(14.6 469.2) rotate(-90)" font-size="15.2" fill="#000" stroke="#000" stroke-width="0.5" stroke-linejoin="round">P (hPa)</text>
<text x="84.67" y="833.2" font-size="16" text-anchor="middle" fill="#000" stroke="#000" stroke-width="0.5" stroke-linejoin="round">-30</text>
<text x="167.02" y="833.2" font-size="16" text-anchor="middle" fill="#000" stroke="#000" stroke-width="0.5" stroke-linejoin="round">-20</text>
<text x="249.37" y="833.2" font-size="16" text-anchor="middle" fill="#000" stroke="#000" stroke-width="0.5" stroke-linejoin="round">-10</text>
<text x="333.21" y="833.2" font-size="16" text-anchor="middle" fill="#000" stroke="#000" stroke-width="0.5" stroke-linejoin="round">0</text>
<text x="415.56" y="833.2" font-size="16" text-anchor="middle" fill="#000" stroke="#000" stroke-width="0.5" stroke-linejoin="round">10</text>
<text x="497.91" y="833.2" font-size="16" text-anchor="middle" fill="#000" stroke="#000" stroke-width="0.5" stroke-linejoin="round">20</text>
<text x="580.26" y="833.2" font-size="16" text-anchor="middle" fill="#000" stroke="#000" stroke-width="0.5" stroke-linejoin="round">30</text>
<text x="662.6" y="833.2" font-size="16" text-anchor="middle" fill="#000" stroke="#000" stroke-width="0.5" stroke-linejoin="round">40</text>
<path d="M86.17 800.3V808.8M168.52 800.3V808.8M250.87 800.3V808.8M333.21 800.3V808.8M415.56 800.3V808.8M497.91 800.3V808.8M580.26 800.3V808.8M662.6 800.3V808.8" stroke="#000" stroke-width="1" fill="none"/>
<text x="376.6" y="853.6" font-size="15" textLength="109" fill="#000" stroke="#000" stroke-width="0.5" stroke-linejoin="round">Temperature (C)</text>
<text x="56.2" y="49.6" font-size="12" fill="#10B810" text-anchor="middle" stroke="#10B810" stroke-width="0.4" stroke-linejoin="round">0.0</text>
<text x="56.2" y="64.3" font-size="12" fill="#000" text-anchor="middle" stroke="#000" stroke-width="0.4" stroke-linejoin="round">0.0</text>
<text x="56.2" y="799.6" font-size="12" fill="#10B810" text-anchor="middle" stroke="#10B810" stroke-width="0.4" stroke-linejoin="round">0.0</text>
<text x="56.2" y="813.1" font-size="12" fill="#000" text-anchor="middle" stroke="#000" stroke-width="0.4" stroke-linejoin="round">0.0</text>
<text x="87.2" y="49.6" font-size="12" fill="#10B810" text-anchor="middle" stroke="#10B810" stroke-width="0.4" stroke-linejoin="round">0.5</text>
<text x="87.2" y="64.3" font-size="12" fill="#000" text-anchor="middle" stroke="#000" stroke-width="0.4" stroke-linejoin="round">0.5</text>
<text x="87.2" y="799.6" font-size="12" fill="#10B810" text-anchor="middle" stroke="#10B810" stroke-width="0.4" stroke-linejoin="round">0.5</text>
<text x="87.2" y="813.1" font-size="12" fill="#000" text-anchor="middle" stroke="#000" stroke-width="0.4" stroke-linejoin="round">0.5</text>
<text x="117.3" y="49.6" font-size="12" fill="#10B810" text-anchor="middle" stroke="#10B810" stroke-width="0.4" stroke-linejoin="round">1.0</text>
<text x="117.3" y="64.3" font-size="12" fill="#000" text-anchor="middle" stroke="#000" stroke-width="0.4" stroke-linejoin="round">1.0</text>
<text x="117.3" y="799.6" font-size="12" fill="#10B810" text-anchor="middle" stroke="#10B810" stroke-width="0.4" stroke-linejoin="round">1.0</text>
<text x="117.3" y="813.1" font-size="12" fill="#000" text-anchor="middle" stroke="#000" stroke-width="0.4" stroke-linejoin="round">1.0</text>
<text x="133.3" y="799.6" font-size="12.3" fill="#10B810" stroke="#10B810" stroke-width="0.4" stroke-linejoin="round">CloudWater (g/Kg)</text>
<text x="133.3" y="813.1" font-size="12.2" textLength="122.3" fill="#000" stroke="#000" stroke-width="0.4" stroke-linejoin="round">Grid-Scale Cloudiness</text>
<circle cx="47.2" cy="23.2" r="3.5" fill="#000"/>
<text x="57.9" y="30.6" font-size="20.2" textLength="79.8" fill="#000" stroke="#000" stroke-width="0.5" stroke-linejoin="round">Erewhon</text>
<text x="143.8" y="29.4" font-size="12.7" textLength="132.4" fill="#000" stroke="#000" stroke-width="0.4" stroke-linejoin="round">-43.53°,170.861° (26,7)</text>
<text x="295.7" y="30.6" font-size="20.3" textLength="154.6" fill="#000" stroke="#000" stroke-width="0.5" stroke-linejoin="round">Valid 1400 NZDT</text>
<text x="458" y="30.4" font-size="14.6" textLength="50.8" fill="#000" stroke="#000" stroke-width="0.5" stroke-linejoin="round">(0100Z)</text>
<text x="514.7" y="30.6" font-size="20.4" textLength="170.6" fill="#000" stroke="#000" stroke-width="0.5" stroke-linejoin="round">MON 15 Dec 2025</text>
<text x="692.5" y="30.4" font-size="15.3" textLength="125.7" fill="#000" stroke="#000" stroke-width="0.5" stroke-linejoin="round">[25hrFcst@0543z]</text>
<text x="290" y="48.6" font-size="12.3" textLength="283" fill="#B0185C" stroke="#B0185C" stroke-width="0.4" stroke-linejoin="round">Plcl=843 Tlcl[C]=5 Shox=12 Pwat[cm]=2 Cape[J]= 0</text>
</svg>
</body></html>
